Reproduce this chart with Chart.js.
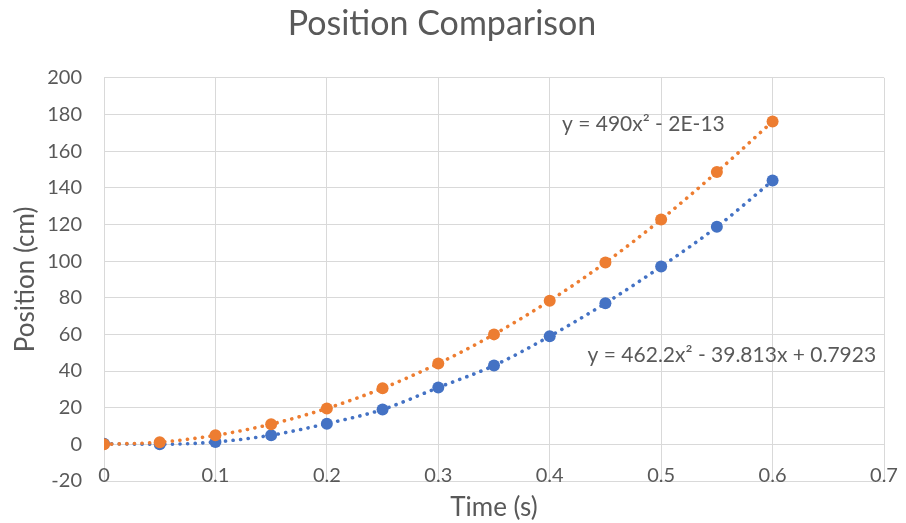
<!DOCTYPE html>
<html>
<head>
<meta charset="utf-8">
<title>Position Comparison</title>
<script src="https://cdn.jsdelivr.net/npm/chart.js@4.4.1/dist/chart.umd.min.js"></script>
<style>
  html, body { margin: 0; padding: 0; background: #ffffff; }
  #wrap { width: 906px; height: 523px; }
</style>
</head>
<body>
<div id="wrap"><canvas id="pos-chart" width="906" height="523"></canvas></div>
<script>
// Time samples (s)
const times = [0, 0.05, 0.1, 0.15, 0.2, 0.25, 0.3, 0.35, 0.4, 0.45, 0.5, 0.55, 0.6];

// Measured positions (cm), blue series
const measured = [0.3, 0, 1.3, 5, 11.3, 19, 31, 43, 59, 77, 97, 118.7, 143.9];

// Theoretical positions (cm), orange series
const theoretical = [0, 1.2, 4.9, 11, 19.6, 30.6, 44.1, 60, 78.4, 99.2, 122.7, 148.6, 176.2];

// Trendline equations shown on the chart
const equationLabels = ['y = 490x² - 2E-13', 'y = 462.2x² - 39.813x + 0.7923'];
const equationAnchors = [[0.411, 174.5], [0.434, 48.5]];

const FONT = 'Lato, "Open Sans", sans-serif';
const TEXT = '#595959';
const GRID = '#d9d9d9';
const BLUE = '#4472C4';
const ORANGE = '#ED7D31';

function toPoints(ys) {
    return times.map((t, i) => ({ x: t, y: ys[i] }));
}

// draws the trendline equations as text, anchored in data coordinates
const equationPlugin = {
    id: 'equations',
    afterDatasetsDraw(chart) {
        const { ctx, scales } = chart;
        ctx.save();
        ctx.font = '21px ' + FONT;
        ctx.fillStyle = TEXT;
        ctx.textAlign = 'left';
        ctx.textBaseline = 'middle';
        equationLabels.forEach((txt, i) => {
            const px = scales.x.getPixelForValue(equationAnchors[i][0]);
            const py = scales.y.getPixelForValue(equationAnchors[i][1]);
            ctx.fillText(txt, px, py);
        });
        ctx.restore();
    }
};

function makeSeries(label, ys, color, order) {
    return {
        label: label,
        data: toPoints(ys),
        showLine: true,
        borderColor: color,
        backgroundColor: color,
        borderWidth: 3.6,
        borderDash: [0.1, 7.5],
        borderCapStyle: 'round',
        cubicInterpolationMode: 'monotone',
        pointRadius: 6,
        pointBorderWidth: 0,
        pointBackgroundColor: color,
        order: order
    };
}

const ctx = document.getElementById('pos-chart').getContext('2d');
const chart = new Chart(ctx, {
    type: 'scatter',
    data: {
        datasets: [
            makeSeries('Theoretical', theoretical, ORANGE, 0),
            makeSeries('Measured', measured, BLUE, 1)
        ]
    },
    options: {
        responsive: false,
        animation: false,
        layout: { padding: { left: 0, right: 22, top: 0, bottom: 0 } },
        plugins: {
            legend: { display: false },
            tooltip: { enabled: false },
            title: {
                display: true,
                text: 'Position Comparison',
                color: TEXT,
                font: { family: FONT, size: 34, weight: 'normal' },
                padding: { top: 4, bottom: 33 }
            }
        },
        scales: {
            x: {
                type: 'linear',
                min: 0,
                max: 0.7,
                afterFit: s => { s.height = 42; },
                ticks: {
                    stepSize: 0.1,
                    color: TEXT,
                    mirror: true,   // labels sit just above the bottom line, like Excel
                    padding: -7,
                    font: { family: FONT, size: 20 }
                },
                grid: { color: GRID, drawTicks: false },
                border: { display: false },
                title: {
                    display: true,
                    text: 'Time (s)',
                    color: TEXT,
                    font: { family: FONT, size: 26 },
                    padding: { top: 0, bottom: 0 }
                }
            },
            y: {
                min: -20,
                max: 200,
                afterFit: s => { s.width = 104; },
                ticks: {
                    stepSize: 20,
                    color: TEXT,
                    padding: 22,
                    font: { family: FONT, size: 20 }
                },
                grid: { color: GRID, drawTicks: false },
                border: { display: false },
                title: {
                    display: true,
                    text: 'Position (cm)',
                    color: TEXT,
                    font: { family: FONT, size: 26 },
                    padding: { top: 10, bottom: 0 }
                }
            }
        }
    },
    plugins: [equationPlugin]
});
</script>
</body>
</html>
